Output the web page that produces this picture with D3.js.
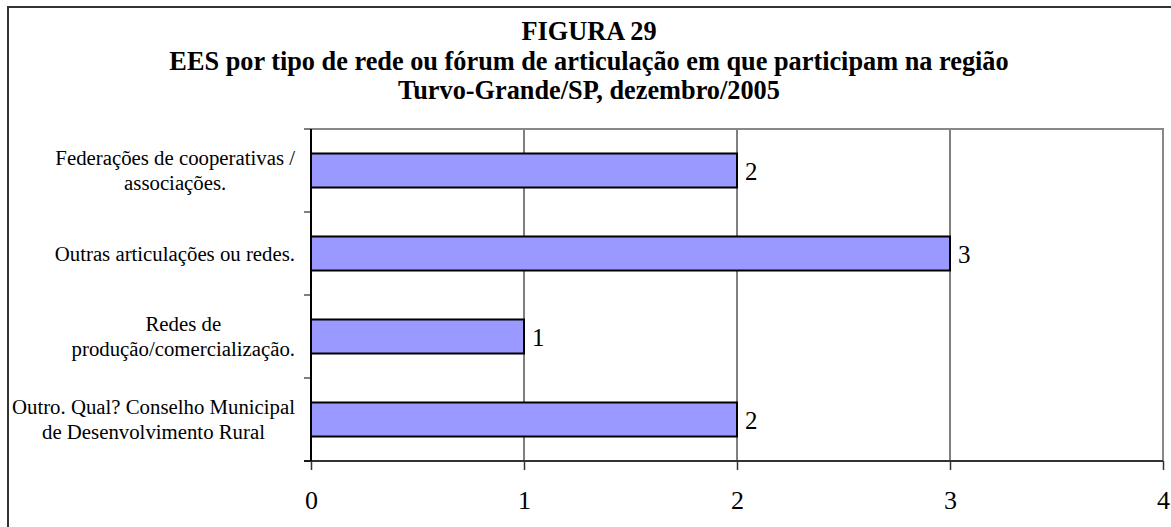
<!DOCTYPE html>
<html lang="pt">
<head>
    <meta charset="UTF-8">
    <title>Figura 29</title>
    <style>
        body, html { margin: 0; padding: 0; background: #fff; }
        svg { display: block; font-family: 'Times New Roman', 'Liberation Serif', serif; }
    </style>
</head>
<body>
  <svg id="svg" width="1171" height="527"></svg>

  <script src="https://d3js.org/d3.v7.min.js"></script>
  <script>
    // ----- DATA ----------
    const titleLines = [
        'FIGURA 29',
        'EES por tipo de rede ou fórum de articulação em que participam na região',
        'Turvo-Grande/SP, dezembro/2005'
    ]
    const categories = [
        ['Federações de cooperativas /', 'associações.'],
        ['Outras articulações ou redes.'],
        ['Redes de', 'produção/comercialização.'],
        ['Outro. Qual? Conselho Municipal', 'de Desenvolvimento Rural']
    ]
    const values = [2, 3, 1, 2]
    const xTicks = [0, 1, 2, 3, 4]

    // CONSTANTS
    const plot = {left: 311, right: 1163, top: 129, bottom: 461}
    const svg = d3.select('#svg')

    // frame around the whole figure
    svg.append('rect')
        .attr('x', 8).attr('y', 7)
        .attr('width', 1172).attr('height', 530)
        .attr('fill', 'none')
        .attr('stroke', '#333')
        .attr('stroke-width', 2)

    // title
    svg.append('g')
        .selectAll('text')
        .data(titleLines)
        .enter()
        .append('text')
        .attr('x', 589)
        .attr('y', (d, i) => 40 + i * 29.5)
        .attr('text-anchor', 'middle')
        .style('font-weight', 'bold')
        .style('font-size', '26.3px')
        .text(d => d)

    // -------- SCALES ------------
    const xScale = d3.scaleLinear()
        .domain([0, 4])
        .range([plot.left, plot.right])

    const idx = categories.map((d, i) => i)
    const yScale = d3.scaleBand()
        .domain(idx)
        .range([plot.top, plot.bottom])
        .paddingInner(0.59)
        .paddingOuter(0.295)

    const step = yScale.step()
    const bandCenter = i => yScale(i) + yScale.bandwidth() / 2

    // -------- GRID ------------
    svg.append('g')
        .selectAll('line')
        .data(xTicks.slice(1, -1))
        .enter()
        .append('line')
        .attr('x1', d => xScale(d)).attr('x2', d => xScale(d))
        .attr('y1', plot.top).attr('y2', plot.bottom)
        .attr('stroke', '#000')
        .attr('stroke-width', 1)

    // plot border (top and right, gray)
    svg.append('path')
        .attr('d', `M${plot.left},${plot.top}H${plot.right}V${plot.bottom}`)
        .attr('fill', 'none')
        .attr('stroke', '#888')
        .attr('stroke-width', 2)

    // -------- BARS ------------
    svg.append('g')
        .selectAll('rect')
        .data(values)
        .enter()
        .append('rect')
        .attr('x', xScale(0))
        .attr('y', (d, i) => yScale(i))
        .attr('width', d => xScale(d) - xScale(0))
        .attr('height', yScale.bandwidth())
        .attr('fill', '#9999FF')
        .attr('stroke', '#000')
        .attr('stroke-width', 2)

    // value labels
    svg.append('g')
        .selectAll('text')
        .data(values)
        .enter()
        .append('text')
        .attr('x', d => xScale(d) + 8)
        .attr('y', (d, i) => bandCenter(i) + 9)
        .style('font-size', '25px')
        .text(d => d)

    // -------- AXES ------------
    const bottomAxis = d3.axisBottom(xScale)
        .tickValues(xTicks)
        .tickSize(9)
        .tickPadding(21)
        .tickFormat(d3.format('d'))

    const gx = svg.append('g')
        .attr('transform', `translate(0, ${plot.bottom})`)
        .call(bottomAxis)
    gx.select('.domain').remove()
    gx.selectAll('line').attr('stroke', '#333').attr('stroke-width', 1.5)
    gx.selectAll('text')
        .style('font-family', "'Times New Roman', 'Liberation Serif', serif")
        .style('font-size', '26px')
        .attr('fill', '#000')

    svg.append('line')
        .attr('x1', plot.left - 7).attr('x2', plot.right)
        .attr('y1', plot.bottom).attr('y2', plot.bottom)
        .attr('stroke', '#333').attr('stroke-width', 2)

    // left axis with ticks at category boundaries
    const yBoundaries = d3.range(categories.length + 1).map(i => plot.top + i * step)
    svg.append('line')
        .attr('x1', plot.left).attr('x2', plot.left)
        .attr('y1', plot.top).attr('y2', plot.bottom)
        .attr('stroke', '#000').attr('stroke-width', 2)
    svg.append('g')
        .selectAll('line')
        .data(yBoundaries)
        .enter()
        .append('line')
        .attr('x1', plot.left - 7).attr('x2', plot.left)
        .attr('y1', d => d).attr('y2', d => d)
        .attr('stroke', '#000').attr('stroke-width', 1)

    // category labels, centered block, right edge near the axis
    const labelRight = 295
    const lineH = 24.5
    categories.forEach((lines, i) => {
        const g = svg.append('g')
        const texts = g.selectAll('text')
            .data(lines)
            .enter()
            .append('text')
            .attr('text-anchor', 'middle')
            .style('font-size', '20.8px')
            .attr('y', (d, j) => bandCenter(i) + 7 + (j - (lines.length - 1) / 2) * lineH)
            .text(d => d)
        const maxW = d3.max(texts.nodes(), n => n.getComputedTextLength())
        texts.attr('x', labelRight - maxW / 2)
    })
  </script>
</body>
</html>
